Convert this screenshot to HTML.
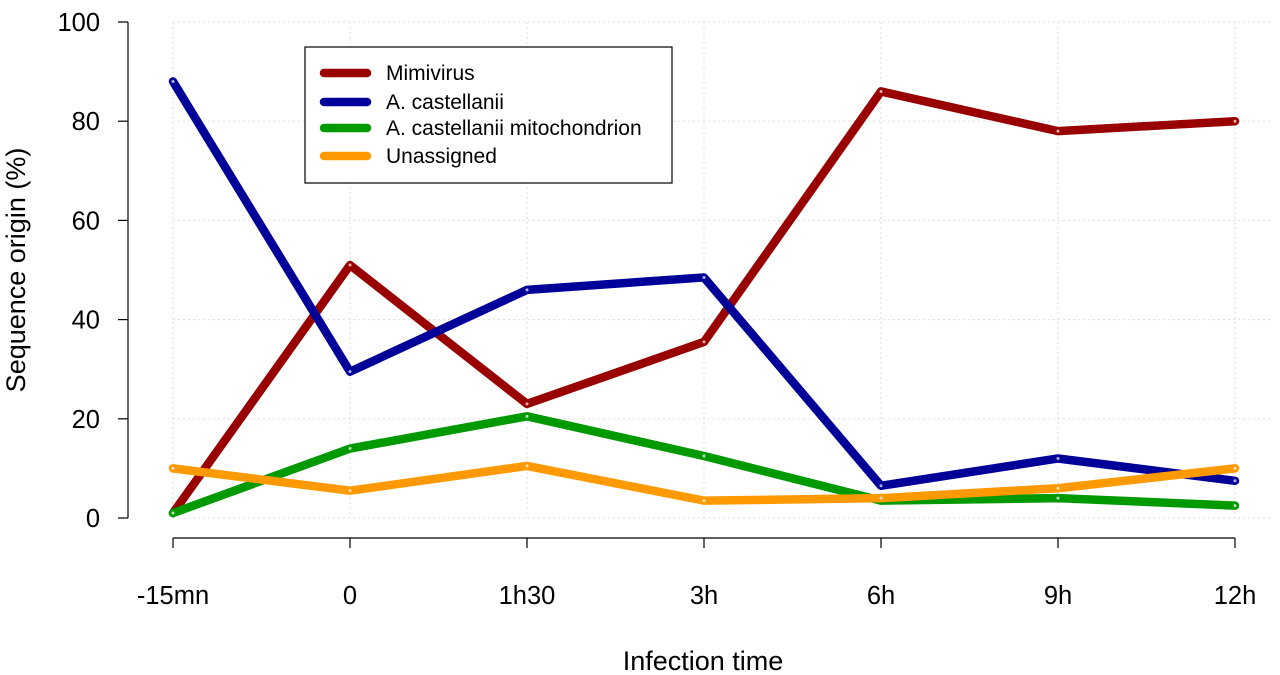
<!DOCTYPE html>
<html><head><meta charset="utf-8"><style>
body{margin:0;background:#fff}
svg{display:block;font-family:"Liberation Sans",sans-serif}
</style></head><body>
<svg id="chart" width="1280" height="675">
<g id="grid"></g>
<g id="axes"></g>
<g id="series"></g>
<text x="703" y="670" font-size="27" text-anchor="middle">Infection time</text>
<text transform="translate(25,270) rotate(-90)" font-size="27" text-anchor="middle">Sequence origin (%)</text>
<g>
<rect x="305" y="47" width="367" height="136" fill="#fff" stroke="#000" stroke-width="1.2"/>
<g id="legend-items"></g>
</g>
</svg>
<script>
const categories=["-15mn","0","1h30","3h","6h","9h","12h"];
const seriesNames=["Mimivirus","A. castellanii","A. castellanii mitochondrion","Unassigned"];
const mimivirus=[1,51,23,35.5,86,78,80];
const castellanii=[88,29.5,46,48.5,6.5,12,7.5];
const mitochondrion=[1,14,20.5,12.5,3.5,4,2.5];
const unassigned=[10,5.5,10.5,3.5,4,6,10];
const yTicks=[0,20,40,60,80,100];
const colors=["#990000","#000099","#009900","#FF9900"];
const ns="http://www.w3.org/2000/svg";
function X(i){return 173+i*(1235-173)/(categories.length-1);}
function Y(v){return 518-v*(518-22)/100;}
function mk(t,a,p){const e=document.createElementNS(ns,t);for(const k in a)e.setAttribute(k,a[k]);p.appendChild(e);return e;}
const grid=document.getElementById('grid'),axes=document.getElementById('axes'),ser=document.getElementById('series'),leg=document.getElementById('legend-items');
categories.forEach((c,i)=>{
 const g=mk('line',{x1:X(i),x2:X(i),y1:Y(100),y2:Y(0),stroke:'#ddd','stroke-dasharray':'2,3'},grid);
 
 
 const t=mk('line',{x1:X(i),x2:X(i),y1:538,y2:548,stroke:'#000','stroke-width':1.2},axes);
 
 
 const l=mk('text',{x:X(i),y:604,'font-size':25.5,'text-anchor':'middle'},axes);l.textContent=c;
 
 
});
yTicks.forEach(v=>{
 const g=mk('line',{x1:X(0),x2:1270,y1:Y(v),y2:Y(v),stroke:'#ddd','stroke-dasharray':'2,3'},grid);
 
 
 const t=mk('line',{x1:118,x2:128,y1:Y(v),y2:Y(v),stroke:'#000','stroke-width':1.2},axes);
 
 
 const l=mk('text',{x:100,y:Y(v)+9,'font-size':25.5,'text-anchor':'end'},axes);l.textContent=v;
 
 
});
const ya=mk('line',{x1:128,x2:128,y1:Y(100),y2:Y(0),stroke:'#000','stroke-width':1.2},axes);


const xa=mk('line',{x1:X(0),x2:X(6),y1:538,y2:538,stroke:'#000','stroke-width':1.2},axes);


[mimivirus,castellanii,mitochondrion,unassigned].forEach((d,s)=>{
 const p=mk('polyline',{points:d.map((v,i)=>X(i)+','+Y(v)).join(' '),fill:'none',stroke:colors[s],'stroke-width':8.5,'stroke-linejoin':'round','stroke-linecap':'round'},ser);
 
 
 d.forEach((v,i)=>{const c=mk('circle',{cx:X(i),cy:Y(v),r:1.5,fill:'#fff',opacity:0.7},ser);
 
 });
 const ly=[73,102,128,156][s];
 const ll=mk('line',{x1:324,x2:367,y1:ly,y2:ly,stroke:colors[s],'stroke-width':8.5,'stroke-linecap':'round'},leg);
 
 
 const lt=mk('text',{x:386,y:ly+7,'font-size':21},leg);lt.textContent=seriesNames[s];
 
 
});
</script>
</body></html>
